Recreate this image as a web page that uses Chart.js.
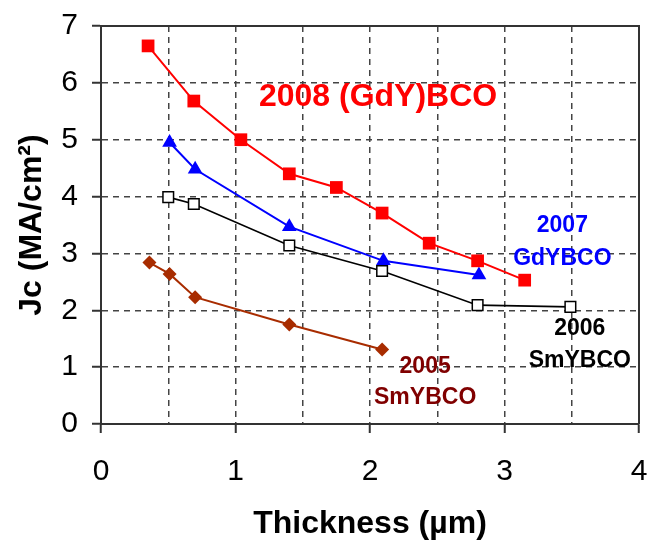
<!DOCTYPE html>
<html>
<head>
<meta charset="utf-8">
<script src="https://cdn.jsdelivr.net/npm/chart.js@4/dist/chart.umd.min.js"></script>
<style>
  html, body { margin: 0; padding: 0; background: #ffffff; }
  #wrap { width: 648px; height: 543px; position: relative; }
</style>
</head>
<body>
<div id="wrap"><canvas id="c" width="648" height="543"></canvas></div>
<script>
// ---- data ----
const thickness2008 = [0.35, 0.69, 1.04, 1.40, 1.75, 2.09, 2.44, 2.80, 3.15];
const jc2008        = [6.65, 5.68, 5.00, 4.40, 4.16, 3.71, 3.18, 2.87, 2.53];
const thickness2007 = [0.51, 0.70, 1.40, 2.10, 2.81];
const jc2007        = [4.95, 4.48, 3.47, 2.87, 2.62];
const thickness2006 = [0.50, 0.69, 1.40, 2.09, 2.80, 3.49];
const jc2006        = [3.99, 3.87, 3.14, 2.69, 2.09, 2.06];
const thickness2005 = [0.36, 0.51, 0.70, 1.40, 2.09];
const jc2005        = [2.84, 2.64, 2.23, 1.75, 1.31];
const xTickLabels = ['0', '1', '2', '3', '4'];
const yTickLabels = ['0', '1', '2', '3', '4', '5', '6', '7'];
const seriesNames = ['2008 (GdY)BCO', '2007 GdYBCO', '2006 SmYBCO', '2005 SmYBCO'];
const xTitle = 'Thickness (\u00B5m)';
const yTitle = 'Jc (MA/cm\u00B2)';

const pts = (xs, ys) => xs.map((x, i) => ({ x: x, y: ys[i] }));

const FONT = '"Liberation Sans", Arial, Helvetica, sans-serif';

// in-plot text labels (placed in data units)
const notes = [
  { lines: ['2008 (GdY)BCO'], x: 2.06, y: 5.74, color: '#ff0000', size: 32, lh: 0 },
  { lines: ['2007', 'GdYBCO'], x: 3.43, y: 3.49, color: '#0000ff', size: 23, lh: 0.58 },
  { lines: ['2006', 'SmYBCO'], x: 3.56, y: 1.68, color: '#000000', size: 23, lh: 0.56 },
  { lines: ['2005', 'SmYBCO'], x: 2.41, y: 1.00, color: '#800000', size: 23, lh: 0.53 }
];

const framePlugin = {
  id: 'frame',
  afterDatasetsDraw(chart) {
    const { ctx, chartArea: a, scales } = chart;
    ctx.save();
    ctx.strokeStyle = '#333333';
    ctx.lineWidth = 2;
    ctx.setLineDash([]);
    ctx.beginPath();
    ctx.moveTo(a.left, a.top);
    ctx.lineTo(a.right, a.top);
    ctx.lineTo(a.right, a.bottom);
    ctx.stroke();
    // notes
    ctx.textAlign = 'center';
    ctx.textBaseline = 'middle';
    notes.forEach(n => {
      ctx.fillStyle = n.color;
      ctx.font = 'bold ' + n.size + 'px ' + FONT;
      n.lines.forEach((t, i) => {
        const px = scales.x.getPixelForValue(n.x);
        const py = scales.y.getPixelForValue(n.y - i * n.lh);
        ctx.fillText(t, px, py);
      });
    });
    ctx.restore();
  }
};

const isInt = v => Math.abs(v - Math.round(v)) < 1e-6;
const noPad = s => { s.paddingLeft = 0; s.paddingRight = 0; s.paddingTop = 0; s.paddingBottom = 0; };

new Chart(document.getElementById('c'), {
  type: 'line',
  data: {
    datasets: [
      {
        label: seriesNames[0],
        data: pts(thickness2008, jc2008),
        borderColor: '#ff0000', backgroundColor: '#ff0000',
        borderWidth: 2, pointStyle: 'rect', pointRadius: 9,
        pointBorderWidth: 0, tension: 0
      },
      {
        label: seriesNames[1],
        data: pts(thickness2007, jc2007),
        borderColor: '#0000ff', backgroundColor: '#0000ff',
        borderWidth: 2, pointStyle: 'triangle', pointRadius: 8.5,
        pointBorderWidth: 0, tension: 0
      },
      {
        label: seriesNames[2],
        data: pts(thickness2006, jc2006),
        borderColor: '#000000', backgroundColor: '#ffffff',
        pointBackgroundColor: '#ffffff', pointBorderColor: '#000000',
        borderWidth: 1.6, pointStyle: 'rect', pointRadius: 7.5,
        pointBorderWidth: 1.5, tension: 0
      },
      {
        label: seriesNames[3],
        data: pts(thickness2005, jc2005),
        borderColor: '#a82c00', backgroundColor: '#a82c00',
        borderWidth: 2, pointStyle: 'rectRot', pointRadius: 7,
        pointBorderWidth: 0, tension: 0
      }
    ]
  },
  options: {
    responsive: false,
    animation: false,
    devicePixelRatio: 1,
    layout: { padding: { left: 0, right: 6, top: 26, bottom: 0 } },
    plugins: { legend: { display: false }, tooltip: { enabled: false } },
    scales: {
      x: {
        type: 'linear',
        min: 0, max: 4,
        afterFit: s => { s.height = 119; noPad(s); },
        ticks: {
          stepSize: 0.5,
          autoSkip: false,
          maxRotation: 0,
          padding: 21,
          color: '#000000',
          font: { family: FONT, size: 30 },
          callback: v => isInt(v) ? xTickLabels[Math.round(v)] : ''
        },
        grid: {
          color: '#444444',
          lineWidth: 1.5,
          drawTicks: true,
          tickLength: 9,
          tickColor: ctx => (ctx.tick && isInt(ctx.tick.value)) ? '#333333' : 'rgba(0,0,0,0)',
          tickWidth: 2
        },
        border: { display: true, color: '#333333', width: 2, dash: [6, 5] },
        title: {
          display: true,
          text: xTitle,
          color: '#000000',
          font: { family: FONT, size: 32, weight: 'bold' },
          padding: { top: 0, bottom: 0 }
        }
      },
      y: {
        type: 'linear',
        min: 0, max: 7,
        afterFit: s => { s.width = 101; noPad(s); },
        ticks: {
          stepSize: 1,
          padding: 14,
          color: '#000000',
          font: { family: FONT, size: 30 },
          callback: v => yTickLabels[Math.round(v)]
        },
        grid: {
          color: '#444444',
          lineWidth: 1.5,
          drawTicks: true,
          tickLength: 9,
          tickColor: '#333333',
          tickWidth: 2
        },
        border: { display: true, color: '#333333', width: 2, dash: [6, 5] },
        title: {
          display: true,
          text: yTitle,
          color: '#000000',
          font: { family: FONT, size: 32, weight: 'bold' },
          padding: { top: 13, bottom: 0 }
        }
      }
    }
  },
  plugins: [framePlugin]
});
</script>
</body>
</html>
